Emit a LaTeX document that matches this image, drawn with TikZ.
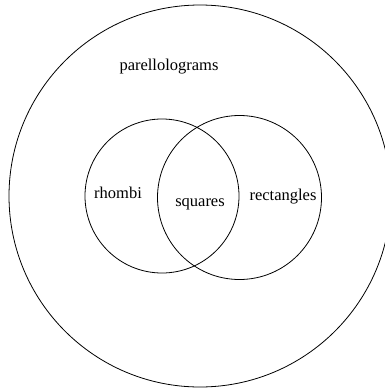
\documentclass[tikz,border=0pt]{standalone}
\usepackage{fontspec}
\setmainfont{Liberation Serif}
\begin{document}
\begin{tikzpicture}[x=1pt,y=-1pt,
  setc/.style={draw=black,line width=0.8pt,circle,inner sep=0pt},
  lbl/.style={font=\fontsize{16.5}{18}\selectfont,inner sep=0pt}]
\useasboundingbox (0,0) rectangle (385,389);
\begin{scope}
\clip (0,0) rectangle (385,389);
\node[setc,minimum size=382pt] (par) at (200,196) {};
\end{scope}
\node[setc,minimum size=154pt] (rho) at (162,196) {};
\node[setc,minimum size=164pt] (rec) at (239.5,197.5) {};
\node[lbl] (tpar) at (169,67) {parellolograms};
\node[lbl] (trho) at (118,193) {rhombi};
\node[lbl] (tsq) at (200,204) {squares};
\node[lbl] (trec) at (283,197) {rectangles};
\end{tikzpicture}
\end{document}
